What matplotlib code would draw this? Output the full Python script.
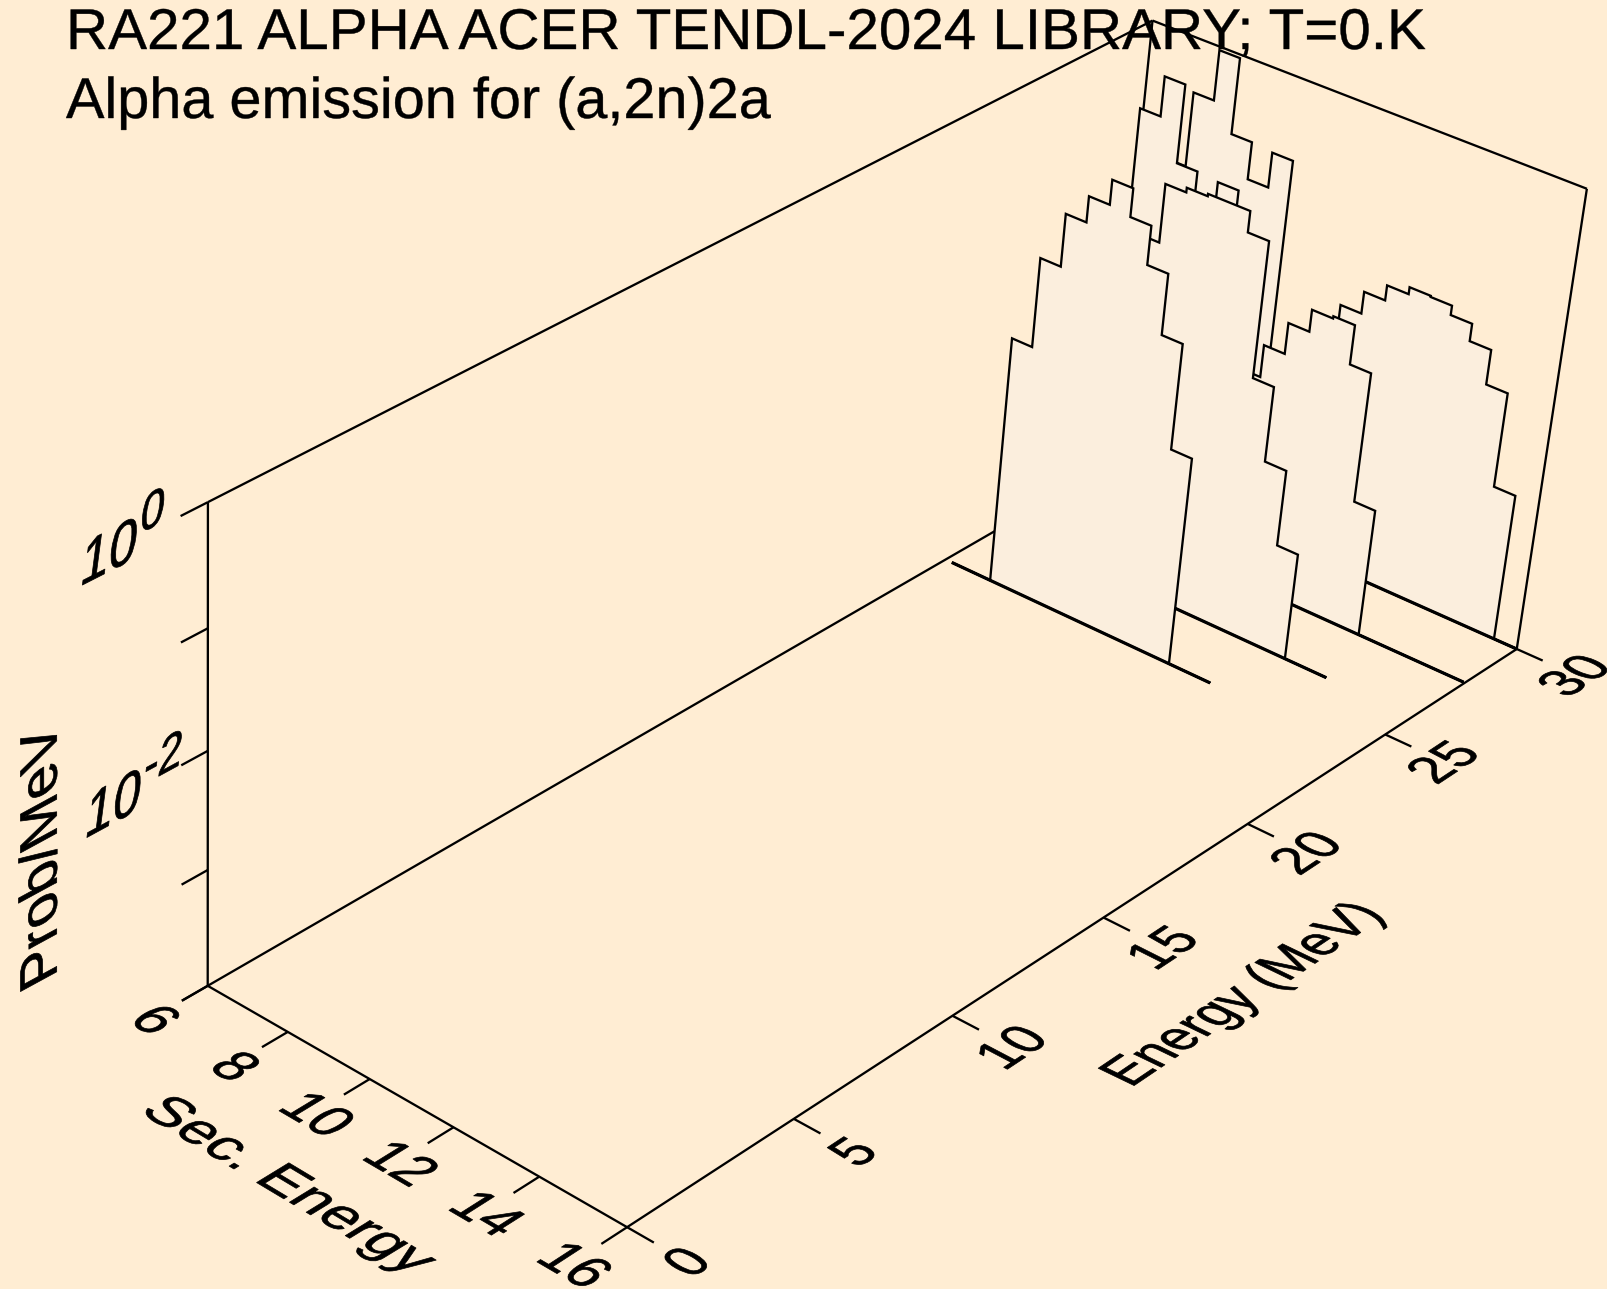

import numpy as np, matplotlib
matplotlib.use('Agg')
import matplotlib.pyplot as plt
import matplotlib._mathtext as _mt
from matplotlib.patheffects import AbstractPathEffect
from matplotlib.transforms import Affine2D

title_lines = ["RA221 ALPHA ACER TENDL-2024 LIBRARY; T=0.K", "Alpha emission for (a,2n)2a"]
sec_ticks = [6, 8, 10, 12, 14, 16]
energy_ticks = [0, 5, 10, 15, 20, 25, 30]
prob_major = [1.0, 1e-2]
prob_ticks = [1.0, 1e-1, 1e-2, 1e-3, 1e-4]
prob_tick_labels = [r"$10^{0}$", r"$10^{\text{-}2}$"]
sec_edges = [6.16, 6.65, 7.13, 7.62, 8.11, 8.60, 9.09, 9.58, 10.07, 10.56, 11.05,
             11.54, 12.03, 12.53, 13.02, 13.51, 14.00, 14.49, 14.98, 15.47, 15.97, 16.00]
prob_E24 = [0, 0, .0151, .0891, .251, .417, .676, .389, .182, .0550, .00676, 0, 0]
prob_E26 = [0, 0, 0, .01, .0398, .110, .347, .380, .398, .398, .263, .0178, .00398, .00087, 0, 0]
prob_E28 = [0, 0, .447, .977, .209, .129, .200, .0933, .00676, .0129, .0240, .0372, .0389,
            .0178, .00132, 0, 0, 0, 0, 0]
prob_E30 = [.0214, .0794, .347, .933, .209, .100, .200, .00417, .00741, .0115, .0186, .0288,
            .0389, .0447, .0437, .0363, .0257, .0129, .00195, 0, 0]
incident_energies = [30, 28, 26, 24]
spectra = [prob_E30, prob_E28, prob_E26, prob_E24]

BG = '#FFEDD3'
FILL = '#FBEEDD'
W, H = 1607, 1289
plt.rcParams['font.family'] = ['Liberation Sans', 'DejaVu Sans']
plt.rcParams['mathtext.fontset'] = 'custom'
plt.rcParams['mathtext.rm'] = 'Liberation Sans'
plt.rcParams['mathtext.default'] = 'regular'
_mt.SHRINK_FACTOR = 0.85

# view matrix of the 3D box: (u, v, w, 1) -> homogeneous pixels
CAM = np.array([[384.273, 1059.01, -11.2619, 207.705],
                [172.64, -451.997, -511.406, 985.813],
                [-0.0560059, 0.14451, -0.0552028, 1.0]])

def project(sec, energy, prob):
    sec, energy, prob = np.broadcast_arrays(np.asarray(sec, float), np.asarray(energy, float), np.asarray(prob, float))
    u = (sec - 6) / 10
    v = energy / 30
    w = (np.log10(np.maximum(prob, 1e-4)) + 4) / 4
    h = CAM @ np.stack([u, v, w, np.ones_like(u)])
    return h[0] / h[2], h[1] / h[2]

class PlaneText(AbstractPathEffect):
    """Maps a text's glyphs onto a plane of the 3D box."""
    def __init__(self, anchor, ex, ey, theta, stroke=0.5):
        super().__init__()
        self.anchor, self.ex, self.ey, self.theta, self.stroke = anchor, ex, ey, theta, stroke
    def draw_path(self, renderer, gc, tpath, affine, rgbFace=None):
        ax_, ay_ = self.anchor
        c, s = np.cos(self.theta), np.sin(self.theta)
        Rinv = np.array([[c, s], [-s, c]])
        L = np.array([self.ex, self.ey]).T @ Rinv
        lin = Affine2D.from_values(L[0, 0], L[1, 0], L[0, 1], L[1, 1], 0, 0)
        t = affine + Affine2D().translate(-ax_, -ay_) + lin + Affine2D().translate(ax_, ay_)
        gc0 = renderer.new_gc()
        gc0.copy_properties(gc)
        gc0.set_linewidth(self.stroke)
        renderer.draw_path(gc0, tpath, t, rgbFace)
        gc0.restore()

fig = plt.figure(figsize=(W / 100, H / 100), dpi=100, facecolor=BG)
ax = fig.add_axes([0, 0, 1, 1])
ax.set_xlim(0, W); ax.set_ylim(H, 0); ax.axis('off')

LW = 1.65
def line(a, b, **kw):
    xs, ys = project(*np.array([a, b]).T)
    ax.plot(xs, ys, color='k', lw=kw.pop('lw', LW), solid_capstyle='butt', solid_joinstyle='miter', zorder=1, **kw)

def unit(pts):
    x, y = pts
    d = np.array([x[1] - x[0], -(y[1] - y[0])], float)
    return d / np.hypot(*d)

def plane_text(s, cx, cy, base, up, size_px, a, b):
    theta = np.arctan2(base[1], base[0])
    tx = ax.text(cx, cy, s, fontsize=size_px * 0.72, ha='center', va='center',
                 rotation=np.degrees(theta), rotation_mode='anchor', color='k', zorder=20)
    tx.set_path_effects([PlaneText((cx, H - cy), base * a / size_px, up * b / size_px, theta)])
    return tx

S0, S1, E0, E1, P0, P1 = 6, 16, 0, 30, 1e-4, 1.0
# box frame
for a_, b_ in [((S0,E0,P0),(S1,E0,P0)), ((S1,E0,P0),(S1,E1,P0)), ((S0,E0,P0),(S0,E1,P0)), ((S0,E1,P0),(S1,E1,P0)),
               ((S0,E0,P0),(S0,E0,P1)), ((S0,E0,P1),(S0,E1,P1)), ((S0,E1,P1),(S1,E1,P1)), ((S0,E1,P0),(S0,E1,P1)), ((S1,E1,P0),(S1,E1,P1))]:
    line(a_, b_)

# ticks
for s in sec_ticks:
    line((s, E0, P0), (s, -0.75, P0))
for e in energy_ticks:
    line((S1, e, P0), (S1 + 0.6, e, P0))
for z in prob_ticks:
    line((S0, E0, z), (S0, -0.75, z))

# spectra, back to front
for i, (E, prob) in enumerate(zip(incident_energies, spectra)):
    n = len(prob)
    edges = np.array(sec_edges[:n + 1])
    sx = np.repeat(edges, 2)[1:-1]
    sz = np.repeat(prob, 2)
    sx = np.r_[edges[0], sx, edges[-1]]
    sz = np.r_[P0, np.maximum(sz, P0), P0]
    px, py = project(sx, E, sz)
    ax.fill(px, py, facecolor=FILL, edgecolor='k', lw=LW, joinstyle='miter', zorder=2 + i)
    fx, fy = project(edges[[0, -1]], E, P0)
    ax.plot(fx, fy, color='k', lw=2.3, solid_capstyle='butt', zorder=2 + i)

# tick labels
for s in sec_ticks:
    x0, y0 = project(s, -1.65, P0)
    bx = unit(project([s - .5, s + .5], -1.65, P0))
    ux = unit(project(s, [-2.15, -1.15], P0))
    plane_text(str(s), x0 + 1, y0 + 3, bx, ux, 34, 54, 57)
for e in energy_ticks:
    x0, y0 = project(S1 + 1.35, e, P0)
    bx = unit(project(S1 + 1.35, [e - .5, e + .5], P0))
    ux = unit(project([S1 + 1.85, S1 + .85], e, P0))
    plane_text(str(e), x0 + 3, y0 + 2, bx, ux, 34, 51, 56)
up_z = np.array([0.13, 1.0]) / np.hypot(0.13, 1.0)
for z, lab, (dx, dy) in zip(prob_major, prob_tick_labels, [(-86, 43), (-75, 42)]):
    x0, y0 = project(S0, E0, z)
    bx = unit(project(S0, [-.5, .5], z))
    plane_text(lab, x0 + dx, y0 + dy, bx, up_z, 50, 57, 65)

# axis titles
bx = unit(project([6, 16], -4, P0))
ux = unit(project(11, [-4.5, -3.5], P0))
plane_text("Sec. Energy", 287, 1186, bx, ux, 50, 58.5, 55)
bx = unit(project(S1 + 3, [15, 25], P0))
ux = unit(project([S1 + 3.5, S1 + 2.5], 20, P0))
plane_text("Energy (MeV)", 1245, 995, bx, ux, 50, 50, 58)
ux = unit(project(S0, [.5, -.5], 1e-2))
plane_text("Prob/MeV", 43, 855, np.array([0., 1.]), ux, 50, 58, 60)

# title
for s, yb, stretch in zip(title_lines, [49, 118], [1.077, 1.064]):
    t = ax.text(66, yb, s, fontsize=39, ha='left', va='baseline', color='k', zorder=0)
    t.set_path_effects([PlaneText((66, H - yb), np.array([stretch, 0.]), np.array([0., 1.06]), 0.0, stroke=0.3)])

fig.savefig('out.png', dpi=100, facecolor=BG)
